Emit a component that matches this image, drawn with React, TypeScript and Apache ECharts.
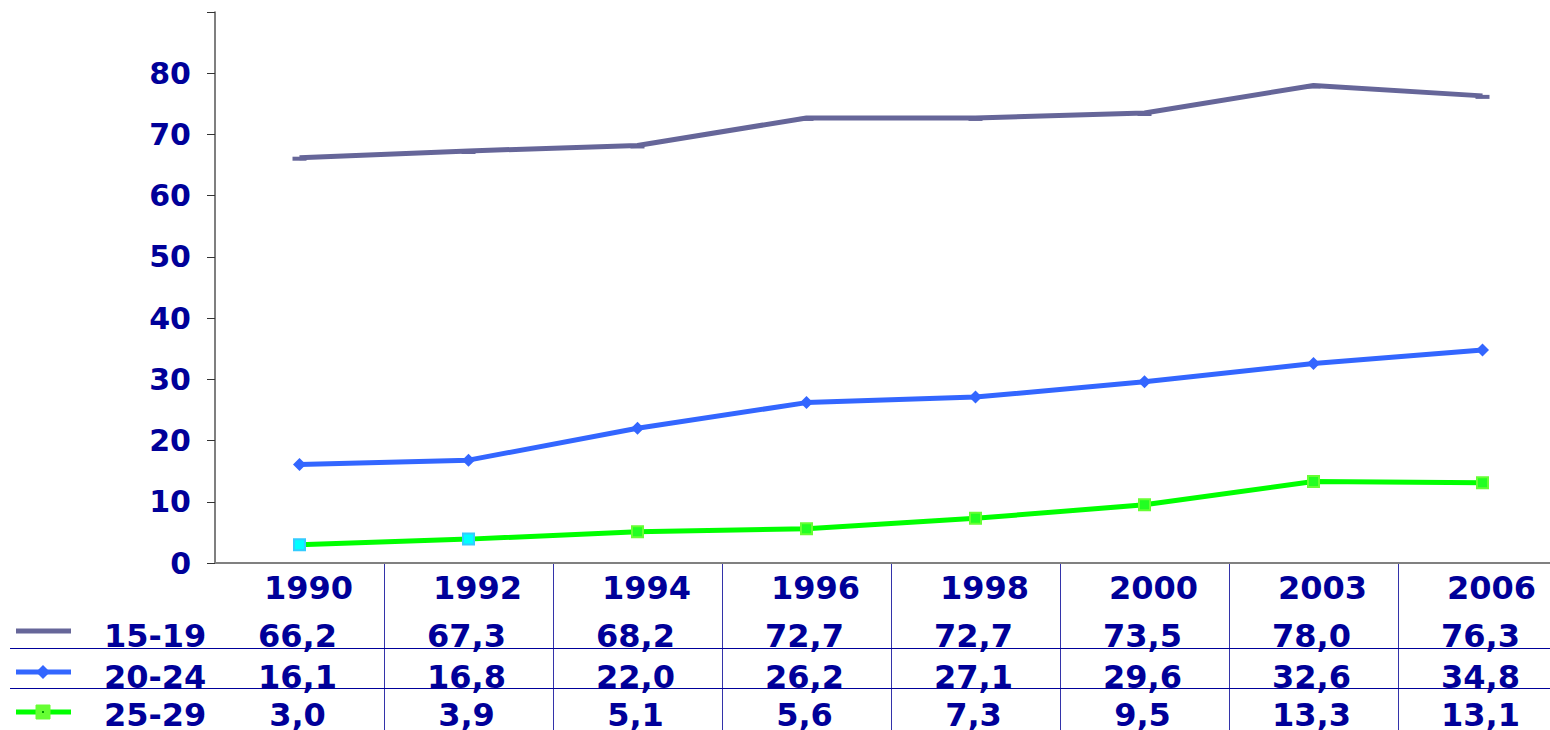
import React, { useEffect, useRef } from "react";
import * as echarts from "echarts";

// ---- data ----
const categories = ["1990", "1992", "1994", "1996", "1998", "2000", "2003", "2006"];
const seriesNames = ["15-19", "20-24", "25-29"];
const values1519 = [66.2, 67.3, 68.2, 72.7, 72.7, 73.5, 78.0, 76.3];
const values2024 = [16.1, 16.8, 22.0, 26.2, 27.1, 29.6, 32.6, 34.8];
const values2529 = [3.0, 3.9, 5.1, 5.6, 7.3, 9.5, 13.3, 13.1];
const yMin = 0;
const yMax = 90;
const yInterval = 10;

// ---- styles ----
const TEXT = "#000099";
const FONT = '"DejaVu Sans", Verdana, sans-serif';
const COLORS = ["#666699", "#3366ff", "#00ff00"];
const CYAN_MARKERS = 2;
const ROW_Y = [636, 677, 715];
const LEGEND_Y = [631, 672, 712];

const fmt = (v: number) => v.toFixed(1).replace(".", ",");

export default function App() {
  const ref = useRef<HTMLDivElement>(null);
  useEffect(() => {
    if (!ref.current) return;
    const chart = echarts.init(ref.current, undefined, { renderer: "svg" });
    const allValues = [values1519, values2024, values2529];
    chart.setOption({
      animation: false,
      grid: {
        left: 215,
        top: 12,
        width: 1352,
        bottom: 167,
        containLabel: false,
        outerBoundsMode: "none",
      },
      xAxis: {
        type: "category",
        data: categories,
        boundaryGap: true,
        axisLine: { show: true, lineStyle: { color: "#808080", width: 2 } },
        axisTick: { show: false },
        axisLabel: {
          show: true,
          interval: 0,
          margin: 9,
          padding: [0, 0, 0, 18],
          color: TEXT,
          fontSize: 32,
          fontWeight: "bold",
          fontFamily: FONT,
        },
        splitLine: { show: false },
      },
      yAxis: {
        type: "value",
        min: yMin,
        max: yMax,
        interval: yInterval,
        axisLine: { show: true, lineStyle: { color: "#555555", width: 1.5 } },
        axisTick: { show: true, length: 8, lineStyle: { color: "#333333" } },
        axisLabel: {
          margin: 24,
          color: TEXT,
          fontSize: 30,
          fontWeight: "bold",
          fontFamily: FONT,
          formatter: (v: number) => (v >= yMax ? "" : String(v)),
        },
        splitLine: { show: false },
      },
      series: [
        {
          name: seriesNames[0],
          type: "line",
          data: values1519,
          symbol: "rect",
          symbolSize: [14, 4],
          symbolOffset: [0, 1],
          lineStyle: { color: COLORS[0], width: 5 },
          itemStyle: { color: COLORS[0] },
        },
        {
          name: seriesNames[1],
          type: "line",
          data: values2024,
          symbol: "diamond",
          symbolSize: 13,
          lineStyle: { color: COLORS[1], width: 5 },
          itemStyle: { color: COLORS[1] },
        },
        {
          name: seriesNames[2],
          type: "line",
          data: values2529.map((v, i) =>
            i < CYAN_MARKERS
              ? { value: v, itemStyle: { color: "#00ffff", borderColor: "#33ccff", borderWidth: 2 } }
              : v
          ),
          symbol: "rect",
          symbolSize: 11,
          lineStyle: { color: COLORS[2], width: 5 },
          itemStyle: { color: "#22ff22", borderColor: "#66ff33", borderWidth: 2 },
        },
      ],
    });

    // table built from the axis scale
    const centers = categories.map((_, i) => chart.convertToPixel({ xAxisIndex: 0 }, i) as number);
    const half = centers.length > 1 ? (centers[1] - centers[0]) / 2 : 0;
    const axisY = chart.convertToPixel({ yAxisIndex: 0 }, yMin) as number;
    const elements: any[] = [];
    centers.forEach((c) => {
      const x = Math.round(c + half) + 0.5;
      elements.push({
        type: "line",
        shape: { x1: x, y1: axisY + 1, x2: x, y2: 730 },
        style: { stroke: "#3333aa", lineWidth: 1 },
        silent: true,
      });
    });
    [648, 688].forEach((y) => {
      elements.push({
        type: "line",
        shape: { x1: 10, y1: y + 0.5, x2: 1550, y2: y + 0.5 },
        style: { stroke: "#000099", lineWidth: 1 },
        silent: true,
      });
    });
    allValues.forEach((vals, r) => {
      const ly = LEGEND_Y[r];
      elements.push({
        type: "line",
        shape: { x1: 16, y1: ly, x2: 71, y2: ly },
        style: { stroke: COLORS[r], lineWidth: 5 },
        silent: true,
      });
      if (r === 1) {
        elements.push({
          type: "polygon",
          shape: { points: [[43, ly - 7], [50, ly], [43, ly + 7], [36, ly]] },
          style: { fill: COLORS[1] },
          silent: true,
        });
      }
      if (r === 2) {
        elements.push({
          type: "rect",
          shape: { x: 36, y: ly - 7, width: 14, height: 14 },
          style: { fill: "#66ff33", stroke: "#66ff33", lineWidth: 1 },
          silent: true,
        });
        elements.push({
          type: "rect",
          shape: { x: 42, y: ly - 1, width: 2, height: 2 },
          style: { fill: "#009900" },
          silent: true,
        });
      }
      elements.push({
        type: "text",
        x: 104,
        y: ROW_Y[r],
        style: {
          text: seriesNames[r],
          fill: TEXT,
          font: `bold 32px ${FONT}`,
          align: "left",
          textAlign: "left",
          verticalAlign: "middle",
          textVerticalAlign: "middle",
        },
        silent: true,
      });
      vals.forEach((v, i) => {
        elements.push({
          type: "text",
          x: centers[i] - 2,
          y: ROW_Y[r],
          style: {
            text: fmt(v),
            fill: TEXT,
            font: `bold 32px ${FONT}`,
            align: "center",
            textAlign: "center",
            verticalAlign: "middle",
            textVerticalAlign: "middle",
          },
          silent: true,
        });
      });
    });
    chart.setOption({ graphic: { elements } });

    return () => chart.dispose();
  }, []);
  return (
    <div
      ref={ref}
      style={{ position: "fixed", left: 0, top: 0, width: 1550, height: 730, background: "#ffffff" }}
    />
  );
}
